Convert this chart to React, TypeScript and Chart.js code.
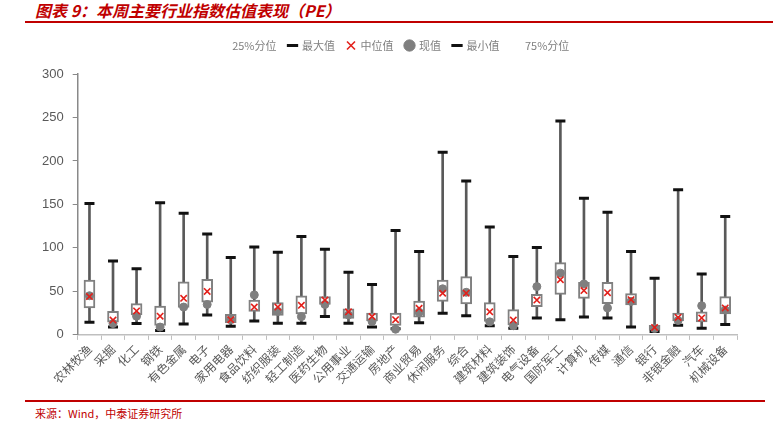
import React, { useEffect, useRef } from "react";
import { Chart, registerables } from "chart.js";

Chart.register(...registerables);

const categories = ["农林牧渔","采掘","化工","钢铁","有色金属","电子","家用电器","食品饮料","纺织服装","轻工制造","医药生物","公用事业","交通运输","房地产","商业贸易","休闲服务","综合","建筑材料","建筑装饰","电气设备","国防军工","计算机","传媒","通信","银行","非银金融","汽车","机械设备"];
const maxValues = [151,85,76,152,140,116,89,101,95,113,98.5,72,58,120,96,210,177,124,90,100.5,246,157,141,96,65,167,70,136];
const q75Values = [63,27,36,33,61,64,23.5,40,37,45,44,30,25,25,39,63,67,37,29,46.5,83,60.5,60.5,47.5,11,25,26.5,44];
const medianValues = [44,17,27.5,21.5,42,50,17.5,32,32,34,40,26.5,21,17.5,30.5,48,48,26.5,17,40,63.5,51,48.5,40.5,8.5,20,19.5,31];
const currentValues = [45,13,21.5,9,32,35,17.5,46,27,21,35,23,15.5,6.5,26,53,49,15,10.5,55.5,71,58.5,31,38.5,7.3,16.5,33.5,28.5];
const q25Values = [31,14.5,23,11,31.5,37.5,14,27,22.5,24,35,19,16,11,20.5,38.5,35.5,15.5,11.5,32.5,46.5,42,36,34.5,5.5,16,15,24];
const minValues = [14.5,9,13,5,12.5,23,10,16,13.5,13.5,21,13.5,9,7,14,25,22,10.5,7.5,19.5,17.5,20.5,19.5,9,4,11,7.5,12];
const yTicks = [0, 50, 100, 150, 200, 250, 300];

const CJK = '"Noto Sans CJK SC", sans-serif';
const RED = "#c00000";

const legendMargin = {
  id: "legendMargin",
  beforeInit(chart: any) {
    const legend = chart.legend;
    if (!legend || legend._patched) return;
    const origFit = legend.fit;
    legend.fit = function () {
      origFit.call(this);
      this.height += 13;
    };
    const origDraw = legend.draw;
    legend.draw = function () {
      const ctx = this.ctx;
      ctx.save();
      ctx.translate(9, 0);
      origDraw.call(this);
      ctx.restore();
    };
    legend._patched = true;
  },
};

export default function App() {
  const ref = useRef<HTMLCanvasElement | null>(null);

  useEffect(() => {
    if (!ref.current) return;
    const chart = new Chart(ref.current, {
      type: "bar",
      plugins: [legendMargin],
      data: {
        labels: categories,
        datasets: [
          { type: "line", label: "25%分位", data: q25Values, showLine: false, pointRadius: 0, borderColor: "transparent", backgroundColor: "transparent", order: 0 } as any,
          { type: "line", label: "最大值", data: maxValues, showLine: false, pointStyle: "line", pointRadius: 5, borderWidth: 3, borderColor: "#111111", backgroundColor: "#111111", order: 0 } as any,
          { type: "line", label: "中位值", data: medianValues, showLine: false, pointStyle: "crossRot", pointRadius: 4.5, borderWidth: 1.6, borderColor: "#e3201b", backgroundColor: "#e3201b", order: 0 } as any,
          { type: "line", label: "现值", data: currentValues, showLine: false, pointStyle: "circle", pointRadius: 4, borderWidth: 1, borderColor: "#7f7f7f", backgroundColor: "#7f7f7f", order: 0 } as any,
          { type: "line", label: "最小值", data: minValues, showLine: false, pointStyle: "line", pointRadius: 5, borderWidth: 3, borderColor: "#111111", backgroundColor: "#111111", order: 0 } as any,
          { type: "line", label: "75%分位", data: q75Values, showLine: false, pointRadius: 0, borderColor: "transparent", backgroundColor: "transparent", order: 0 } as any,
          { type: "bar", label: "box", data: categories.map((_, i) => [q25Values[i], q75Values[i]]), backgroundColor: "#ffffff", borderColor: "#808080", borderWidth: 2, borderSkipped: false, barThickness: 11, grouped: false, order: 2 } as any,
          { type: "bar", label: "whisker", data: categories.map((_, i) => [minValues[i], maxValues[i]]), backgroundColor: "#595959", borderWidth: 0, barThickness: 2, grouped: false, order: 3 } as any,
        ],
      },
      options: {
        animation: false,
        responsive: true,
        maintainAspectRatio: false,
        layout: { padding: { left: 33, right: 36, top: 0, bottom: 8 } },
        plugins: {
          tooltip: { enabled: false },
          legend: {
            position: "top",
            labels: {
              usePointStyle: true,
              boxWidth: 8,
              boxHeight: 8,
              padding: 12,
              color: "#7f7f7f",
              font: { family: CJK, size: 11 },
              filter: (item: any) => item.datasetIndex < 6,
            },
          },
        },
        scales: {
          x: {
            offset: true,
            grid: { offset: true, drawOnChartArea: false, tickLength: 5, color: "#bfbfbf", lineWidth: 1 },
            border: { color: "#bfbfbf", width: 1.5 },
            ticks: { autoSkip: false, maxRotation: 45, minRotation: 45, padding: 2, color: "#595959", font: { family: CJK, size: 12 } },
          },
          y: {
            min: 0,
            max: 300,
            afterBuildTicks: (axis: any) => { axis.ticks = yTicks.map((v) => ({ value: v })); },
            grid: { drawOnChartArea: false, tickLength: 5, color: "#898989", lineWidth: 1 },
            border: { color: "#898989", width: 1.5 },
            ticks: { padding: 9, color: "#595959", font: { family: '"Liberation Sans", Arial, sans-serif', size: 13 } },
          },
        },
      },
    });
    return () => chart.destroy();
  }, []);

  return (
    <div style={{ position: "absolute", left: 0, top: 0, width: 773, height: 422, background: "#fff", overflow: "hidden" }}>
      <div style={{ position: "absolute", left: 35, top: 0, fontFamily: CJK, fontSize: 16, fontWeight: 700, fontStyle: "italic", color: RED, lineHeight: "20px", whiteSpace: "nowrap" }}>
        图表 9：本周主要行业指数估值表现（PE）
      </div>
      <div style={{ position: "absolute", left: 25, top: 21, width: 748, height: 2, background: RED }} />
      <div style={{ position: "absolute", left: 0, top: 28, width: 773, height: 368 }}>
        <canvas ref={ref} />
      </div>
      <div style={{ position: "absolute", left: 25, top: 400, width: 740, height: 1.5, background: RED }} />
      <div style={{ position: "absolute", left: 35, top: 406, fontFamily: CJK, fontSize: 11, color: RED, lineHeight: "15px", whiteSpace: "nowrap" }}>
        来源：Wind，中泰证券研究所
      </div>
    </div>
  );
}
